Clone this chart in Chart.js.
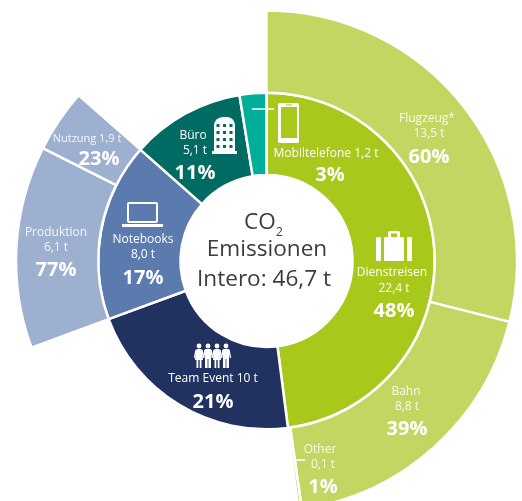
<!DOCTYPE html>
<html>
<head>
<meta charset="utf-8">
<script src="https://cdn.jsdelivr.net/npm/chart.js@4"></script>
<style>
  html, body { margin: 0; padding: 0; background: #fff; width: 522px; height: 501px; overflow: hidden; }
  #wrap { position: relative; width: 522px; height: 501px; overflow: hidden; }
  #co2Chart { position: absolute; left: 0; top: 0; }
</style>
</head>
<body>
<div id="wrap"><canvas id="co2Chart" width="533" height="522"></canvas></div>
<script>
// tonnes CO2, starting at 12 o'clock going clockwise
const mainCategories = ['Dienstreisen', 'Team Event', 'Notebooks', 'Büro', 'Mobiltelefone'];
const mainValues = [22.4, 10, 8.0, 5.1, 1.2];

// second ring, null label = gap where a category has no breakdown
const detailCategories = ['Flugzeug*', 'Bahn', 'Other', null, 'Produktion', 'Nutzung', null];
const detailValues = [13.5, 8.8, 0.1, 10, 6.1, 1.9, 6.3];

const mainColors = ['#a8c81c', '#213260', '#5b7aae', '#006b63', '#00ae99'];
const detailColors = ['#c3d662', '#c3d662', '#c3d662', 'transparent', '#9eb0d0', '#9eb0d0', 'transparent'];

const FONT = '"Open Sans", sans-serif';
const PALE = 'rgba(255,255,255,0.88)';

// [text, x, y, kind]  kind: 'l' = label, 'o' = outer ring label, 'p' = percent
const labels = [
  ['Flugzeug*', 427, 119, 'o'], ['13,5 t', 429, 134, 'o'], ['60%', 429, 157, 'p'],
  ['Bahn', 406, 392, 'o'], ['8,8 t', 407, 407, 'o'], ['39%', 407, 429, 'p'],
  ['Other', 320, 450, 'o'], ['0,1 t', 323, 465, 'o'], ['1%', 323, 487, 'p'],
  ['Mobiltelefone 1,2 t', 326, 154, 'l'], ['3%', 330, 175, 'p'],
  ['Dienstreisen', 392, 273, 'l'], ['22,4 t', 394, 289, 'l'], ['48%', 394, 311, 'p'],
  ['Team Event 10 t', 213, 379, 'l'], ['21%', 213, 402, 'p'],
  ['Notebooks', 143, 240, 'l'], ['8,0 t', 143, 255, 'l'], ['17%', 143, 278, 'p'],
  ['Produktion', 56, 233, 'o'], ['6,1 t', 56, 248, 'o'], ['77%', 56, 270, 'p'],
  ['Nutzung 1,9 t', 87, 139, 'n'], ['23%', 99, 159, 'p'],
  ['Büro', 193, 136, 'l'], ['5,1 t', 195, 151, 'l'], ['11%', 195, 173, 'p']
];

function drawPhone(ctx) {
  ctx.fillStyle = '#fff';
  ctx.beginPath();
  ctx.roundRect(278, 103, 21, 40, 1.5);
  ctx.fill();
  ctx.fillStyle = '#a8c81c';
  ctx.fillRect(281, 107, 16, 31);
  ctx.fillRect(286, 104.5, 6, 1);
}

function drawBriefcase(ctx) {
  ctx.fillStyle = '#fff';
  ctx.beginPath();
  ctx.roundRect(376, 237, 5, 24, 1);
  ctx.roundRect(384, 237, 20, 24, 1);
  ctx.roundRect(407, 237, 5, 24, 1);
  ctx.roundRect(388, 231, 12, 7, 2);
  ctx.fill();
  ctx.fillStyle = '#a8c81c';
  ctx.fillRect(391, 233.5, 6, 3.5);
}

function drawLaptop(ctx) {
  ctx.strokeStyle = '#fff';
  ctx.lineWidth = 2;
  ctx.beginPath();
  ctx.roundRect(128, 203, 29, 19, 1);
  ctx.stroke();
  ctx.fillStyle = '#fff';
  ctx.fillRect(122, 224, 41, 3);
}

function drawBuilding(ctx) {
  ctx.fillStyle = '#fff';
  ctx.beginPath();
  ctx.moveTo(214, 152);
  ctx.lineTo(214, 125);
  ctx.quadraticCurveTo(215, 118, 222, 117);
  ctx.lineTo(228, 117);
  ctx.quadraticCurveTo(234, 118, 235, 125);
  ctx.lineTo(235, 152);
  ctx.closePath();
  ctx.fill();
  ctx.fillRect(212, 151, 25, 3);
  ctx.fillStyle = '#006b63';
  for (let r = 0; r < 4; r++) {
    for (let c = 0; c < 3; c++) {
      ctx.fillRect(216.5 + c * 6.5, 124 + r * 7, 3, 3);
    }
  }
}

function drawPeople(ctx) {
  ctx.fillStyle = '#fff';
  ctx.strokeStyle = '#fff';
  ctx.lineWidth = 1.4;
  for (let i = 0; i < 4; i++) {
    const x = 199 + i * 9;
    ctx.beginPath();
    ctx.arc(x, 346, 2.4, 0, Math.PI * 2);
    ctx.fill();
    // arms, holding hands with the next one
    ctx.beginPath();
    ctx.moveTo(x - 3, 350);
    ctx.lineTo(x - 4.5, 358);
    ctx.moveTo(x + 3, 350);
    ctx.lineTo(x + 4.5, 358);
    ctx.stroke();
    if (i % 2 == 0) {
      ctx.beginPath();
      ctx.moveTo(x - 2.5, 349);
      ctx.lineTo(x + 2.5, 349);
      ctx.lineTo(x + 4, 360);
      ctx.lineTo(x - 4, 360);
      ctx.closePath();
      ctx.fill();
      ctx.fillRect(x - 2.5, 360, 1.8, 8);
      ctx.fillRect(x + 0.7, 360, 1.8, 8);
    } else {
      ctx.fillRect(x - 3, 349, 6, 10);
      ctx.fillRect(x - 3, 359, 2.6, 9);
      ctx.fillRect(x + 0.4, 359, 2.6, 9);
    }
  }
}

const textPlugin = {
  id: 'textPlugin',
  afterDraw(chart) {
    const ctx = chart.ctx;
    ctx.save();
    ctx.textAlign = 'center';
    ctx.textBaseline = 'middle';
    labels.forEach(([text, x, y, kind]) => {
      ctx.fillStyle = kind == 'o' || kind == 'n' ? PALE : '#fff';
      if (kind == 'p') ctx.font = 'bold 20px ' + FONT;
      else if (kind == 'n') ctx.font = '11px ' + FONT;
      else ctx.font = '12px ' + FONT;
      ctx.fillText(text, x, y);
    });

    // middle of the ring
    ctx.fillStyle = '#3c3c3c';
    ctx.font = '22.6px ' + FONT;
    ctx.fillText('Emissionen', 267, 250);
    ctx.fillText('Intero: 46,7 t', 264, 280);
    ctx.textAlign = 'left';
    ctx.fillText('CO', 244, 223);
    ctx.font = '12px ' + FONT;
    ctx.fillText('2', 276, 233);

    // leader lines for the two small slices
    ctx.strokeStyle = '#fff';
    ctx.lineWidth = 1.5;
    ctx.beginPath();
    ctx.moveTo(252, 109);
    ctx.lineTo(274, 109);
    ctx.moveTo(295, 460);
    ctx.lineTo(305, 460);
    ctx.stroke();

    drawPhone(ctx);
    drawBriefcase(ctx);
    drawLaptop(ctx);
    drawBuilding(ctx);
    drawPeople(ctx);
    ctx.restore();
  }
};

new Chart(document.getElementById('co2Chart').getContext('2d'), {
  type: 'doughnut',
  data: {
    labels: detailCategories.map(c => c || ''),
    datasets: [
      {
        label: 'Detail',
        data: detailValues,
        backgroundColor: detailColors,
        borderColor: detailCategories.map(c => c ? '#fff' : 'transparent'),
        borderWidth: 2.5,
        weight: 82
      },
      {
        label: 'Kategorie',
        data: mainValues,
        backgroundColor: mainColors,
        borderColor: '#fff',
        borderWidth: 2.5,
        weight: 82
      }
    ]
  },
  options: {
    responsive: false,
    animation: false,
    cutout: 86,
    layout: { padding: { left: 14.75, right: 14.75, top: 9.25, bottom: 9.25 } },
    plugins: { legend: { display: false }, tooltip: { enabled: false } }
  },
  plugins: [textPlugin]
});
</script>
</body>
</html>
